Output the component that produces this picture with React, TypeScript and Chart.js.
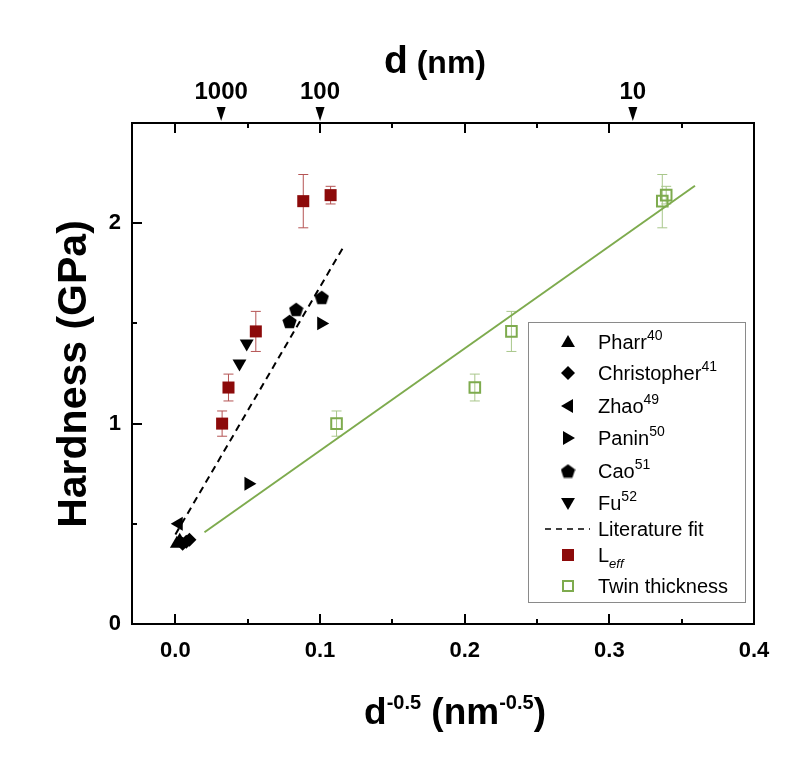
import { useEffect, useRef } from "react";
import { Chart, registerables } from "chart.js";

Chart.register(...registerables);

// Literature hardness data (x = d^-0.5 in nm^-0.5, y = hardness in GPa)
const pharrX = [0.001, 0.003];
const pharrY = [0.40, 0.415];
const christopherX = [0.005, 0.0075, 0.0097];
const christopherY = [0.40, 0.41, 0.42];
const zhaoX = [0.0023];
const zhaoY = [0.50];
const paninX = [0.0505, 0.1008];
const paninY = [0.70, 1.50];
const caoX = [0.0789, 0.0835, 0.1012];
const caoY = [1.51, 1.57, 1.63];
const fuX = [0.0443, 0.0493];
const fuY = [1.30, 1.40];
const litFitX = [0.0, 0.1165];
const litFitY = [0.447, 1.886];

// This work: hardness plotted against L_eff and against twin thickness
const leffX = [0.0323, 0.0367, 0.0556, 0.0884, 0.1073];
const twinX = [0.1114, 0.207, 0.2323, 0.3366, 0.3393];
const hardness = [1.0, 1.18, 1.46, 2.11, 2.14];
const hardnessErr = [0.063, 0.067, 0.1, 0.133, 0.044];
const twinFitX = [0.0201, 0.3592];
const twinFitY = [0.458, 2.187];

// Axes
const xTicks = [0, 0.1, 0.2, 0.3, 0.4];
const xMinorTicks = [0.05, 0.15, 0.25, 0.35];
const yTicks = [0, 1, 2];
const yMinorTicks = [0.5, 1.5];
const grainSizesNm = [1000, 100, 10];

const FONT = "'Liberation Sans', Arial, Helvetica, sans-serif";
const RED = "#8c0a0a";
const RED_ERR = "#b55454";
const GREEN = "#7eab4e";
const GREEN_ERR = "#a9c78b";

const pts = (xs: number[], ys: number[]) => xs.map((x, i) => ({ x, y: ys[i] }));

function makePentagon(size: number, color: string) {
  const c = document.createElement("canvas");
  c.width = size;
  c.height = size;
  const g = c.getContext("2d")!;
  const R = size / 2;
  const cy = R * 1.095;
  g.beginPath();
  for (let i = 0; i < 5; i++) {
    const a = -Math.PI / 2 + (i * 2 * Math.PI) / 5;
    const px = R + R * Math.cos(a);
    const py = cy + R * Math.sin(a);
    if (i === 0) g.moveTo(px, py);
    else g.lineTo(px, py);
  }
  g.closePath();
  g.fillStyle = color;
  g.fill();
  return c;
}

type Part = { t: string; size: number; dy?: number; italic?: boolean };

function drawRich(ctx: CanvasRenderingContext2D, parts: Part[], x: number, y: number, align: "left" | "center", bold = true) {
  const fontOf = (p: Part) => `${p.italic ? "italic " : ""}${bold ? "bold " : ""}${p.size}px ${FONT}`;
  let total = 0;
  parts.forEach((p) => {
    ctx.font = fontOf(p);
    total += ctx.measureText(p.t).width;
  });
  let cx = align === "center" ? x - total / 2 : x;
  ctx.textAlign = "left";
  ctx.textBaseline = "alphabetic";
  parts.forEach((p) => {
    ctx.font = fontOf(p);
    ctx.fillText(p.t, cx, y + (p.dy || 0));
    cx += ctx.measureText(p.t).width;
  });
}

function triPath(ctx: CanvasRenderingContext2D, x: number, y: number, r: number, rotDeg: number) {
  let rad = (rotDeg * Math.PI) / 180;
  ctx.beginPath();
  for (let i = 0; i < 3; i++) {
    const px = x + Math.sin(rad) * r;
    const py = y - Math.cos(rad) * r;
    if (i === 0) ctx.moveTo(px, py);
    else ctx.lineTo(px, py);
    rad += (2 * Math.PI) / 3;
  }
  ctx.closePath();
}

const errorBars = {
  id: "errorBars",
  beforeDatasetsDraw(chart: any) {
    const { ctx } = chart;
    const yScale = chart.scales.y;
    chart.data.datasets.forEach((ds: any, i: number) => {
      if (!ds.errors) return;
      const meta = chart.getDatasetMeta(i);
      ctx.save();
      ctx.strokeStyle = ds.errorColor;
      ctx.lineWidth = 1;
      meta.data.forEach((el: any, j: number) => {
        const v = ds.data[j].y;
        const top = yScale.getPixelForValue(v + ds.errors[j]);
        const bot = yScale.getPixelForValue(v - ds.errors[j]);
        ctx.beginPath();
        ctx.moveTo(el.x, top);
        ctx.lineTo(el.x, bot);
        ctx.moveTo(el.x - 5, top);
        ctx.lineTo(el.x + 5, top);
        ctx.moveTo(el.x - 5, bot);
        ctx.lineTo(el.x + 5, bot);
        ctx.stroke();
      });
      ctx.restore();
    });
  },
};

const frame = {
  id: "frame",
  afterDraw(chart: any) {
    const { ctx, chartArea: a, scales } = chart;
    const xs = scales.x;
    const x2 = scales.x2;
    const ys = scales.y;
    ctx.save();
    ctx.strokeStyle = "#000";
    ctx.lineWidth = 2;
    ctx.strokeRect(a.left, a.top, a.right - a.left, a.bottom - a.top);

    // inward ticks on bottom, top and left
    const tick = (v: number, len: number) => {
      const px = Math.round(xs.getPixelForValue(v));
      ctx.beginPath();
      ctx.moveTo(px, a.bottom);
      ctx.lineTo(px, a.bottom - len);
      ctx.moveTo(px, a.top);
      ctx.lineTo(px, a.top + len);
      ctx.stroke();
    };
    xTicks.forEach((v) => tick(v, 10));
    xMinorTicks.forEach((v) => tick(v, 5));
    const ytick = (v: number, len: number) => {
      const py = Math.round(ys.getPixelForValue(v));
      ctx.beginPath();
      ctx.moveTo(a.left, py);
      ctx.lineTo(a.left + len, py);
      ctx.stroke();
    };
    yTicks.forEach((v) => ytick(v, 10));
    yMinorTicks.forEach((v) => ytick(v, 5));

    // top axis: grain size d marked on the d^-0.5 scale
    ctx.fillStyle = "#000";
    grainSizesNm.forEach((d) => {
      const px = x2.getPixelForValue(Math.pow(d, -0.5));
      ctx.font = `bold 24px ${FONT}`;
      ctx.textAlign = "center";
      ctx.textBaseline = "alphabetic";
      ctx.fillText(String(d), px, 99);
      ctx.beginPath();
      ctx.moveTo(px - 4.5, 107);
      ctx.lineTo(px + 4.5, 107);
      ctx.lineTo(px, 121);
      ctx.closePath();
      ctx.fill();
    });

    // axis titles
    drawRich(ctx, [{ t: "d", size: 39 }, { t: " (nm)", size: 32 }], 435, 73, "center");
    drawRich(
      ctx,
      [
        { t: "d", size: 37 },
        { t: "-0.5", size: 20, dy: -15 },
        { t: " (nm", size: 37 },
        { t: "-0.5", size: 20, dy: -15 },
        { t: ")", size: 37 },
      ],
      455,
      724,
      "center"
    );
    ctx.save();
    ctx.translate(86, 374);
    ctx.rotate(-Math.PI / 2);
    drawRich(ctx, [{ t: "Hardness (GPa)", size: 41 }], 0, 0, "center");
    ctx.restore();
    ctx.restore();
  },
};

function makeLegend(pentagon: HTMLCanvasElement) {
  return {
    id: "richLegend",
    afterDraw(chart: any) {
      const { ctx } = chart;
      ctx.save();
      ctx.fillStyle = "#fff";
      ctx.fillRect(528, 322, 218, 280);
      ctx.strokeStyle = "#8a8a8a";
      ctx.lineWidth = 1;
      ctx.strokeRect(528.5, 322.5, 217, 280);
      const sx = 568;
      const tx = 598;
      const rows: { y: number; draw: () => void; label: Part[] }[] = [
        { y: 342, draw: () => { triPath(ctx, sx, 343, 8, 0); ctx.fillStyle = "#000"; ctx.fill(); }, label: [{ t: "Pharr", size: 20 }, { t: "40", size: 14, dy: -9 }] },
        { y: 373, draw: () => { ctx.beginPath(); ctx.moveTo(sx, 366); ctx.lineTo(sx + 7, 373); ctx.lineTo(sx, 380); ctx.lineTo(sx - 7, 373); ctx.closePath(); ctx.fillStyle = "#000"; ctx.fill(); }, label: [{ t: "Christopher", size: 20 }, { t: "41", size: 14, dy: -9 }] },
        { y: 406, draw: () => { triPath(ctx, sx + 1, 406, 8, -90); ctx.fillStyle = "#000"; ctx.fill(); }, label: [{ t: "Zhao", size: 20 }, { t: "49", size: 14, dy: -9 }] },
        { y: 438, draw: () => { triPath(ctx, sx - 1, 438, 8, 90); ctx.fillStyle = "#000"; ctx.fill(); }, label: [{ t: "Panin", size: 20 }, { t: "50", size: 14, dy: -9 }] },
        { y: 471, draw: () => { ctx.drawImage(pentagon, sx - pentagon.width / 2, 471 - pentagon.height / 2); }, label: [{ t: "Cao", size: 20 }, { t: "51", size: 14, dy: -9 }] },
        { y: 503, draw: () => { triPath(ctx, sx, 502, 8, 180); ctx.fillStyle = "#000"; ctx.fill(); }, label: [{ t: "Fu", size: 20 }, { t: "52", size: 14, dy: -9 }] },
        { y: 529, draw: () => { ctx.strokeStyle = "#000"; ctx.lineWidth = 1.5; ctx.setLineDash([6, 5]); ctx.beginPath(); ctx.moveTo(545, 529); ctx.lineTo(590, 529); ctx.stroke(); ctx.setLineDash([]); }, label: [{ t: "Literature fit", size: 20 }] },
        { y: 555, draw: () => { ctx.fillStyle = RED; ctx.fillRect(sx - 6, 549, 12, 12); }, label: [{ t: "L", size: 20 }, { t: "eff", size: 13, dy: 6, italic: true }] },
        { y: 586, draw: () => { ctx.strokeStyle = GREEN; ctx.lineWidth = 2; ctx.strokeRect(sx - 5, 581, 10, 10); }, label: [{ t: "Twin thickness", size: 20 }] },
      ];
      rows.forEach((r) => {
        ctx.save();
        r.draw();
        ctx.restore();
        ctx.fillStyle = "#000";
        drawRich(ctx, r.label, tx, r.y + 7, "left", false);
      });
      ctx.restore();
    },
  };
}

export default function App() {
  const ref = useRef<HTMLCanvasElement | null>(null);

  useEffect(() => {
    if (!ref.current) return;
    const pentagon = makePentagon(15, "#000");
    const black = "#000";
    const chart = new Chart(ref.current, {
      type: "scatter",
      data: {
        datasets: [
          { label: "Pharr", data: pts(pharrX, pharrY), pointStyle: "triangle", pointRadius: 8, backgroundColor: black, borderWidth: 0 },
          { label: "Christopher", data: pts(christopherX, christopherY), pointStyle: "rectRot", pointRadius: 7, backgroundColor: black, borderWidth: 0 },
          { label: "Zhao", data: pts(zhaoX, zhaoY), pointStyle: "triangle", rotation: -90, pointRadius: 8, backgroundColor: black, borderWidth: 0 },
          { label: "Panin", data: pts(paninX, paninY), pointStyle: "triangle", rotation: 90, pointRadius: 8, backgroundColor: black, borderWidth: 0 },
          { label: "Cao", data: pts(caoX, caoY), pointStyle: pentagon, pointRadius: 7, backgroundColor: black, borderWidth: 0 },
          { label: "Fu", data: pts(fuX, fuY), pointStyle: "triangle", rotation: 180, pointRadius: 8, backgroundColor: black, borderWidth: 0 },
          { label: "Literature fit", data: pts(litFitX, litFitY), showLine: true, pointRadius: 0, borderColor: black, borderWidth: 2, borderDash: [7, 5], fill: false },
          { label: "Leff", data: pts(leffX, hardness), pointStyle: "rect", pointRadius: 8.5, backgroundColor: RED, borderWidth: 0, errors: hardnessErr, errorColor: RED_ERR } as any,
          { label: "Twin thickness", data: pts(twinX, hardness), pointStyle: "rect", pointRadius: 7.5, backgroundColor: "rgba(255,255,255,0)", borderColor: GREEN, borderWidth: 2, errors: hardnessErr, errorColor: GREEN_ERR } as any,
          { label: "Twin fit", data: pts(twinFitX, twinFitY), showLine: true, pointRadius: 0, borderColor: GREEN, borderWidth: 2, fill: false },
        ],
      },
      options: {
        animation: false,
        responsive: false,
        devicePixelRatio: 1,
        layout: { padding: { left: 0, top: 0, right: 45, bottom: 0 } },
        plugins: { legend: { display: false }, tooltip: { enabled: false } },
        scales: {
          x: {
            type: "linear",
            position: "bottom",
            min: -0.03,
            max: 0.4,
            grid: { display: false, drawTicks: false },
            border: { display: false },
            afterBuildTicks: (s: any) => { s.ticks = xTicks.map((v) => ({ value: v })); },
            afterFit: (s: any) => { s.height = 139; },
            ticks: {
              color: "#000",
              padding: 14,
              autoSkip: false,
              maxRotation: 0,
              font: { family: FONT, size: 22, weight: "bold" },
              callback: (v: any) => Number(v).toFixed(1),
            },
          },
          x2: {
            type: "linear",
            position: "top",
            min: -0.03,
            max: 0.4,
            grid: { display: false, drawTicks: false },
            border: { display: false },
            ticks: { display: false },
            afterFit: (s: any) => { s.height = 123; },
          },
          y: {
            type: "linear",
            position: "left",
            min: 0,
            max: 2.5,
            grid: { display: false, drawTicks: false },
            border: { display: false },
            afterBuildTicks: (s: any) => { s.ticks = yTicks.map((v) => ({ value: v })); },
            afterFit: (s: any) => { s.width = 132; },
            ticks: {
              color: "#000",
              padding: 11,
              font: { family: FONT, size: 22, weight: "bold" },
              callback: (v: any) => String(v),
            },
          },
        },
      } as any,
      plugins: [errorBars, frame, makeLegend(pentagon)],
    });
    return () => chart.destroy();
  }, []);

  return (
    <div style={{ position: "absolute", left: 0, top: 0, width: 799, height: 763, background: "#fff" }}>
      <canvas ref={ref} width={799} height={763} style={{ display: "block" }} />
    </div>
  );
}
